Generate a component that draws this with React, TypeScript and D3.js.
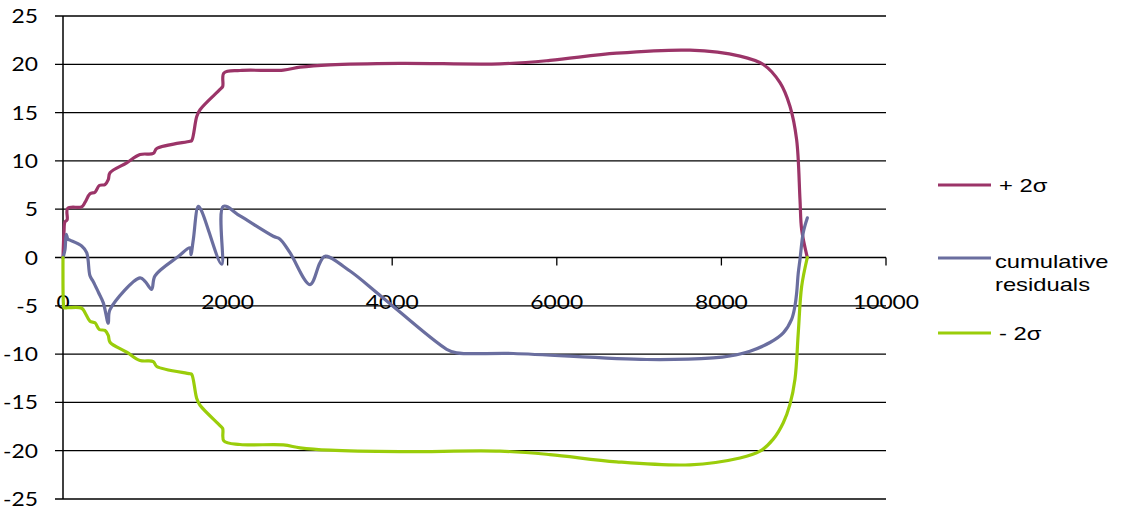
import React from "react";
import * as d3 from "d3";

const xTicks = [0, 2000, 4000, 6000, 8000, 10000];
const yTicks = [25, 20, 15, 10, 5, 0, -5, -10, -15, -20, -25];

const upperX = [0, 12, 24, 50, 57, 227, 267, 328, 389, 441, 510, 550, 571, 774, 936, 1097, 1139, 1543, 1564, 1625, 1665, 1908, 1940, 1955, 2151, 2677, 2880, 3244, 4094, 5310, 5917, 6727, 7618, 8226, 8509, 8712, 8833, 8914, 8955, 8975, 9044];
const upperY = [0, 2.6, 3.7, 3.9, 5.1, 5.25, 5.7, 6.6, 6.76, 7.45, 7.55, 8.07, 8.77, 9.8, 10.66, 10.77, 11.28, 12.04, 12.1, 14.6, 15.3, 17.4, 17.7, 19.1, 19.36, 19.4, 19.7, 19.95, 20.1, 20.05, 20.4, 21.15, 21.46, 20.85, 19.98, 18.1, 15.66, 12.2, 6.0, 2.9, 0];

const lowerX = [0, 5, 12, 57, 227, 267, 328, 389, 441, 510, 550, 571, 774, 936, 1097, 1139, 1543, 1564, 1625, 1665, 1908, 1940, 1955, 2151, 2677, 2880, 3244, 4094, 5310, 5917, 6727, 7618, 8226, 8469, 8630, 8752, 8833, 8894, 8934, 8975, 9044];
const lowerY = [0, -4.8, -5.2, -5.2, -5.25, -5.7, -6.6, -6.76, -7.45, -7.55, -8.07, -8.77, -9.8, -10.66, -10.77, -11.28, -12.04, -12.1, -14.6, -15.3, -17.4, -17.7, -19.0, -19.36, -19.4, -19.7, -19.95, -20.1, -20.05, -20.4, -21.15, -21.46, -20.75, -20.05, -18.8, -17.1, -15.2, -12.6, -7.8, -3.0, 0];

const cumX = [0, 24, 40, 60, 85, 227, 288, 328, 368, 430, 490, 550, 571, 936, 1000, 1077, 1118, 1401, 1543, 1555, 1584, 1644, 1685, 1928, 1948, 2151, 2555, 2637, 2758, 3001, 3122, 3183, 3487, 3864, 4662, 4783, 5471, 7092, 7901, 8104, 8347, 8590, 8752, 8853, 8894, 8914, 8934, 8955, 8995, 9044];
const cumY = [0, 0.8, 2.4, 1.9, 1.8, 1.2, 0.5, -1.9, -2.5, -3.6, -4.7, -6.8, -5.4, -2.1, -2.5, -3.3, -1.9, 0.1, 1.0, 0.3, 1.9, 5.3, 4.8, -0.7, 5.3, 4.3, 2.2, 1.9, 0.5, -2.8, -0.55, 0.13, -1.4, -4.0, -9.5, -9.87, -9.94, -10.56, -10.4, -10.2, -9.7, -8.8, -7.8, -6.4, -5.0, -3.7, -1.6, -0.2, 2.6, 4.1];

const seriesNames = ["+ 2σ", "cumulative|residuals", "- 2σ"];
const seriesColors = ["#9B3468", "#6A6E9F", "#9ACD0A"];

export default function App() {
  const x = d3.scaleLinear().domain([0, 10000]).range([63, 886]);
  const y = d3.scaleLinear().domain([-25, 25]).range([499, 16]);
  const line = d3
    .line<[number, number]>()
    .x((d) => x(d[0]))
    .y((d) => y(d[1]))
    .curve(d3.curveCatmullRom.alpha(0.5));

  const series = [
    upperX.map((v, i) => [v, upperY[i]] as [number, number]),
    cumX.map((v, i) => [v, cumY[i]] as [number, number]),
    lowerX.map((v, i) => [v, lowerY[i]] as [number, number]),
  ];

  const legendY = [185, 258, 333];

  return (
    <svg
      width={1125}
      height={513}
      style={{ position: "absolute", left: 0, top: 0, background: "#fff" }}
    >
      {yTicks.map((t) => (
        <line key={"g" + t} x1={55} x2={886} y1={y(t)} y2={y(t)} stroke="#000" strokeWidth={1.3} />
      ))}
      <line x1={63} x2={63} y1={y(25)} y2={y(-25)} stroke="#000" strokeWidth={1.5} />
      {xTicks.slice(1).map((t) => (
        <line key={"xt" + t} x1={x(t)} x2={x(t)} y1={y(0)} y2={y(0) + 8} stroke="#000" strokeWidth={1.3} />
      ))}
      {yTicks.map((t) => (
        <text
          key={"yl" + t}
          transform={`translate(38,${y(t) + 7}) scale(1.2,1)`}
          textAnchor="end"
          fontFamily="Lato, sans-serif"
          fontSize={19}
          fill="#000"
        >
          {t}
        </text>
      ))}
      {xTicks.map((t) => (
        <text
          key={"xl" + t}
          transform={`translate(${x(t)},${y(0) + 51}) scale(1.2,1)`}
          textAnchor="middle"
          fontFamily="Lato, sans-serif"
          fontSize={19}
          fill="#000"
        >
          {t}
        </text>
      ))}
      {series.map((s, i) => (
        <path key={"s" + i} d={line(s) || ""} fill="none" stroke={seriesColors[i]} strokeWidth={3.2} strokeLinejoin="round" strokeLinecap="round" />
      ))}
      {seriesNames.map((n, i) => {
        const parts = n.split("|");
        return (
          <g key={"lg" + i}>
            <line x1={938} x2={991} y1={legendY[i]} y2={legendY[i]} stroke={seriesColors[i]} strokeWidth={3.2} />
            {parts.map((p, j) => (
              <text
                key={j}
                transform={`translate(${parts.length > 1 ? 995 : 999},${legendY[i] + 7 + j * 23 + (parts.length > 1 ? 3 : 0)}) scale(1.25,1)`}
                fontFamily="'Liberation Sans', Arial, sans-serif"
                fontSize={19}
                fill="#000"
              >
                {p}
              </text>
            ))}
          </g>
        );
      })}
    </svg>
  );
}
